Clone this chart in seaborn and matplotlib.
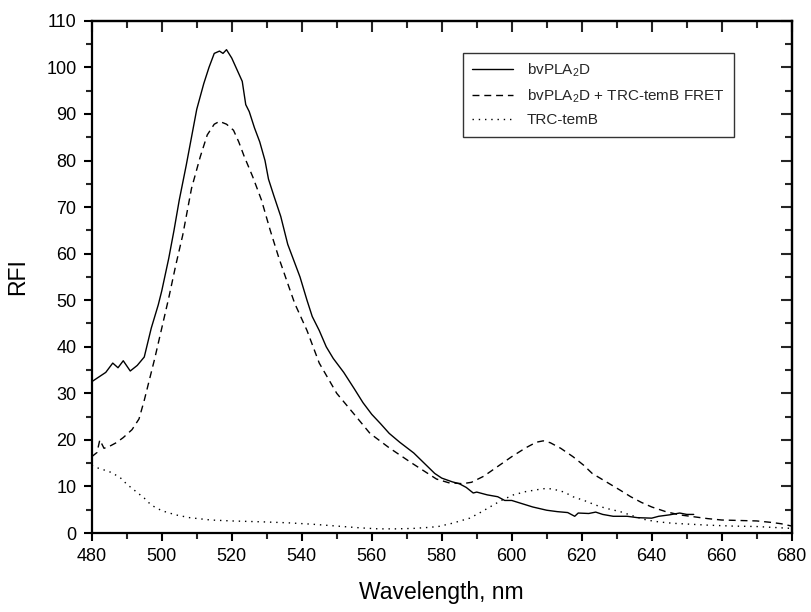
import numpy as np
import pandas as pd
import matplotlib
matplotlib.use("Agg")
import matplotlib.pyplot as plt
from matplotlib.ticker import MultipleLocator
import seaborn as sns

# bvPLA2D (solid)
solid_x = [480, 482, 484, 486, 487.5, 489, 491, 493, 495, 497, 499, 500, 502, 503.5, 505, 507,
           508.5, 510, 512, 513.5, 515, 516.5, 517.5, 518.5, 520, 521.5, 523, 524, 525, 526.5,
           528, 529.5, 530.5, 532, 534, 536, 538, 539.5, 541.5, 543, 545, 547, 549, 552, 555,
           557.5, 560, 562.5, 565, 568, 572, 575, 578, 580, 583, 585, 587, 589, 590, 593, 596,
           598, 600, 603, 606, 610, 613, 616, 618, 619, 622, 624, 626, 629, 633, 636, 640, 642,
           645, 648, 650, 652]
solid_y = [32.5, 33.5, 34.5, 36.5, 35.5, 37, 34.8, 36, 37.8, 44, 49, 52, 59, 65, 71.5, 79,
           85, 91, 96.5, 100, 103, 103.5, 103, 103.8, 102, 99.5, 97, 92, 90.5, 87,
           84, 80, 76, 72.5, 68, 62, 58, 55, 50, 46.5, 43.5, 40, 37.5, 34.5, 31,
           28, 25.5, 23.5, 21.4, 19.5, 17.2, 15, 12.8, 11.8, 11, 10.6, 9.8, 8.6, 8.8, 8.2, 7.8,
           7, 7, 6.3, 5.6, 4.9, 4.6, 4.4, 3.6, 4.3, 4.2, 4.5, 4.0, 3.6, 3.6, 3.3, 3.2, 3.6,
           3.9, 4.3, 4.0, 4.0]

# bvPLA2D + TRC-temB FRET (dashed)
fret_x = [480, 481.5, 482.3, 483.5, 485, 487, 489, 491.5, 493.5, 495, 496.5, 498, 500, 502, 504,
          506, 508.5, 511, 513, 515, 516.5, 518.5, 520.5, 522, 523.5, 526, 528.5, 531, 533.5,
          536.5, 538, 541.5, 545, 550, 555, 559.5, 565, 571.5, 578.5, 582, 586, 588.5, 592, 596,
          600, 604, 607, 609, 611, 614, 617.5, 620.5, 623, 627, 631, 634, 637, 640, 644, 648,
          652, 656, 660, 665, 670, 674, 677, 680]
fret_y = [16.4, 17.3, 20, 18.2, 18.6, 19.4, 20.5, 22.2, 24.5, 28.5, 33, 37.5, 44, 50.5, 57.5,
          64, 74, 80.8, 85.5, 87.8, 88.4, 87.8, 86.5, 84, 81, 76.5, 71.5, 65, 59,
          52.5, 49.3, 43.5, 36.5, 30, 25.5, 21.4, 18.3, 15, 11.6, 10.8, 10.6, 10.9, 12.2, 14.3,
          16.4, 18.3, 19.5, 19.8, 19.4, 18.2, 16.4, 14.6, 12.8, 11, 9.2, 7.8, 6.6, 5.6, 4.6, 3.9,
          3.5, 3.1, 2.8, 2.7, 2.6, 2.3, 2.0, 1.5]

# TRC-temB (dotted)
trc_x = [480, 482, 485, 488, 490, 492.5, 495, 497, 500, 504, 508, 514, 520, 529, 536, 543, 550,
         557, 562, 567, 572, 576, 579, 583, 588, 591, 594, 597, 600.5, 604, 608, 610, 612, 615,
         617.5, 621, 624, 627, 631, 635, 638.5, 642, 646, 651, 656, 663, 670, 675, 680]
trc_y = [14.5, 13.9, 13.2, 12, 10.5, 9, 7.5, 6, 4.8, 3.9, 3.3, 2.8, 2.6, 2.4, 2.2, 1.9, 1.5,
         1.1, 0.9, 0.9, 1.0, 1.2, 1.4, 2.1, 3.2, 4.4, 5.7, 7, 8.2, 8.9, 9.4, 9.6, 9.4, 8.8,
         7.8, 6.9, 6, 5.3, 4.6, 3.6, 2.8, 2.4, 2.1, 1.9, 1.7, 1.5, 1.4, 1.2, 1.0]

labels = ["bvPLA$_2$D", "bvPLA$_2$D + TRC-temB FRET", "TRC-temB"]

sns.set_theme(style="ticks")
plt.rcParams["font.family"] = ["Liberation Sans", "DejaVu Sans"]
plt.rcParams["mathtext.fontset"] = "custom"
plt.rcParams["mathtext.rm"] = "Liberation Sans"
plt.rcParams["mathtext.it"] = "Liberation Sans"

fig = plt.figure(figsize=(8.12, 6.12), dpi=100)
ax = fig.add_axes([0.113, 0.129, 0.862, 0.837])

df1 = pd.DataFrame({"x": solid_x, "y": solid_y})
df2 = pd.DataFrame({"x": fret_x, "y": fret_y})
df3 = pd.DataFrame({"x": trc_x, "y": trc_y})

sns.lineplot(data=df1, x="x", y="y", ax=ax, color="black", lw=1.0, estimator=None,
             label=labels[0])
sns.lineplot(data=df2, x="x", y="y", ax=ax, color="black", lw=1.0, estimator=None,
             linestyle=(0, (5, 3.5)), label=labels[1])
sns.lineplot(data=df3, x="x", y="y", ax=ax, color="black", lw=1.0, estimator=None,
             linestyle=(0, (1, 3.5)), label=labels[2])

ax.set_xlim(480, 680)
ax.set_ylim(0, 110)
ax.xaxis.set_major_locator(MultipleLocator(20))
ax.xaxis.set_minor_locator(MultipleLocator(10))
ax.yaxis.set_major_locator(MultipleLocator(10))
ax.yaxis.set_minor_locator(MultipleLocator(5))
ax.tick_params(which="major", direction="out", length=6, width=1.5, labelsize=13,
               colors="black", pad=5)
ax.tick_params(which="minor", direction="out", length=4, width=1.5)
for s in ax.spines.values():
    s.set_linewidth(1.6)
    s.set_color("black")

# mirrored ticks on top and right, pointing inward
top = ax.secondary_xaxis("top")
top.xaxis.set_major_locator(MultipleLocator(20))
top.xaxis.set_minor_locator(MultipleLocator(10))
top.tick_params(which="major", direction="in", length=8, width=1.5, labeltop=False)
top.tick_params(which="minor", direction="in", length=5, width=1.5)
top.spines["top"].set_linewidth(1.6)
right = ax.secondary_yaxis("right")
right.yaxis.set_major_locator(MultipleLocator(10))
right.yaxis.set_minor_locator(MultipleLocator(5))
right.tick_params(which="major", direction="in", length=8, width=1.5, labelright=False)
right.tick_params(which="minor", direction="in", length=5, width=1.5)
right.spines["right"].set_linewidth(1.6)

ax.set_xlabel("Wavelength, nm", fontsize=16.5, labelpad=11, color="black")
ax.set_ylabel("RFI", fontsize=16.5, labelpad=12, color="black")

leg = ax.legend(loc="upper right", bbox_to_anchor=(0.917, 0.938), borderaxespad=0,
                fontsize=11, frameon=True, fancybox=False, handlelength=2.7,
                borderpad=0.6, labelspacing=0.55, handletextpad=0.9)
leg.get_frame().set_edgecolor("black")
leg.get_frame().set_linewidth(1.0)

fig.savefig("out.png", dpi=100)
